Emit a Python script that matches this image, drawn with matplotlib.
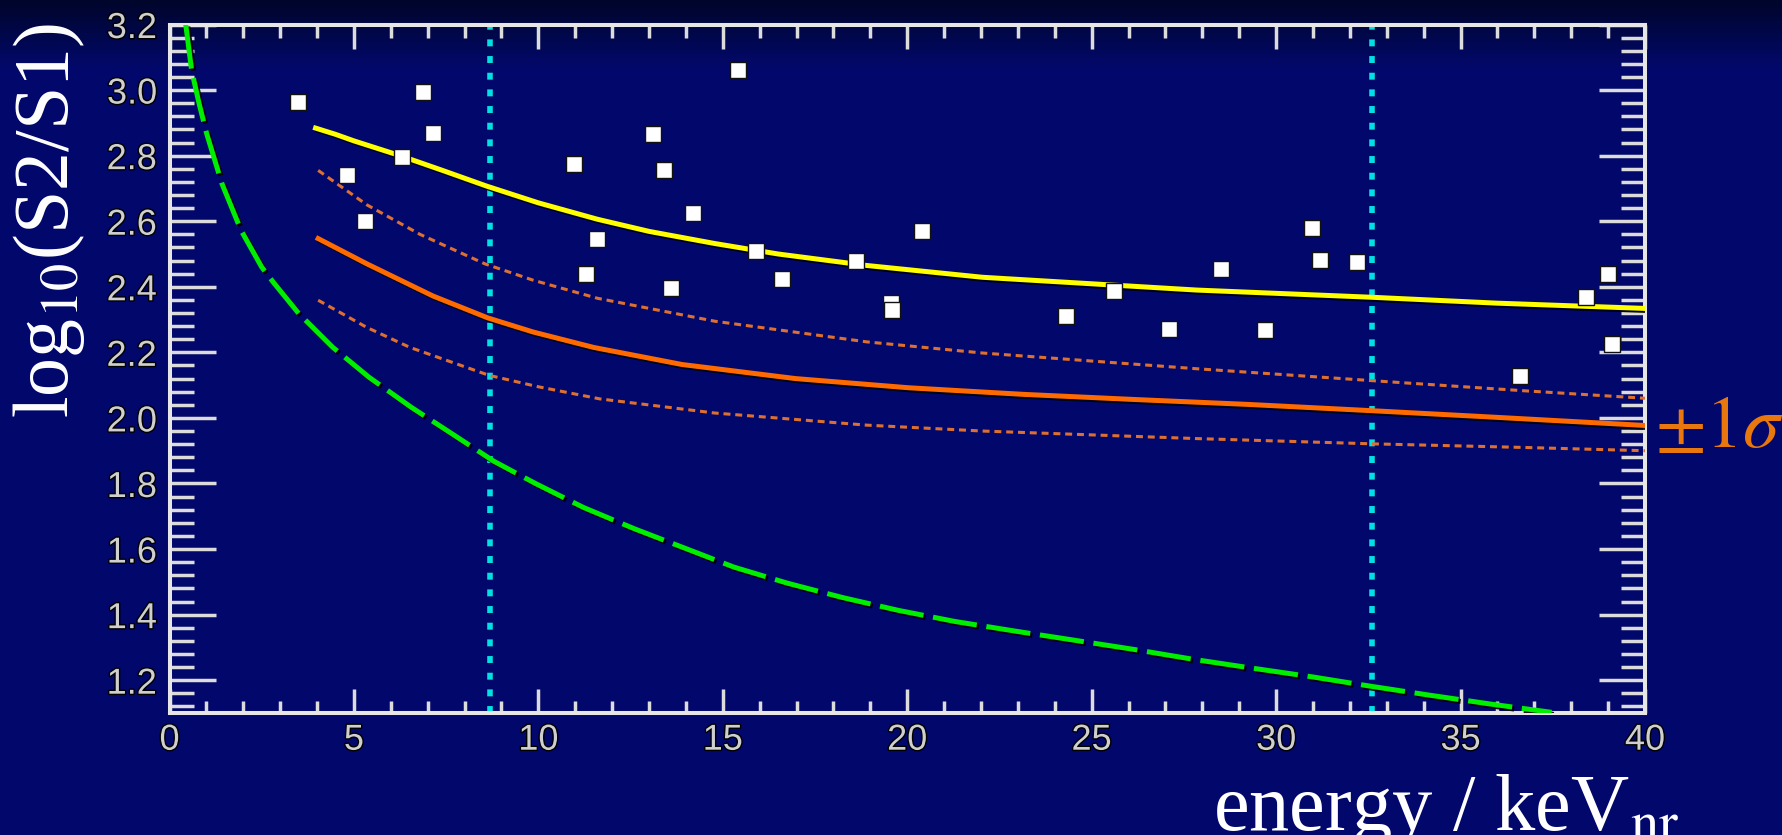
import numpy as np
import matplotlib
matplotlib.use("Agg")
import matplotlib.pyplot as plt
import matplotlib.patheffects as pe
from matplotlib.ticker import MultipleLocator, FormatStrFormatter

plt.rcParams['mathtext.fontset'] = 'stix'
plt.rcParams['lines.scale_dashes'] = False

# events (energy in keVnr, log10(S2/S1))
ev_x = [3.48, 4.8, 5.3, 6.3, 6.86, 7.14, 10.96, 11.3, 11.6, 13.1, 13.4, 13.6, 14.2,
        15.4, 15.9, 16.6, 18.6, 19.55, 19.6, 20.4, 24.3, 25.6, 27.1, 28.5, 29.7,
        30.96, 31.2, 32.2, 36.6, 38.4, 39.0, 39.1]
ev_y = [2.965, 2.74, 2.60, 2.795, 2.995, 2.87, 2.776, 2.44, 2.545, 2.865, 2.757, 2.395, 2.625,
        3.06, 2.51, 2.425, 2.48, 2.35, 2.33, 2.57, 2.31, 2.386, 2.27, 2.455, 2.268,
        2.578, 2.483, 2.477, 2.127, 2.368, 2.44, 2.227]

# electron recoil band mean
er_x = [3.96, 4.5, 5.0, 6.25, 7.4, 8.6, 10.0, 11.6, 13.0, 14.78, 16.5, 18.9, 22.04, 27.85, 32.6, 36.0, 40.0]
er_y = [2.884, 2.865, 2.845, 2.80, 2.755, 2.707, 2.656, 2.606, 2.569, 2.532, 2.50, 2.465, 2.429, 2.39, 2.368, 2.35, 2.334]

# nuclear recoil band mean and +-1 sigma
nr_x = [4.03, 5.35, 7.14, 8.63, 9.86, 11.5, 13.89, 16.97, 20.04, 23.13, 26.2, 29.28, 32.6, 35.45, 40.0]
nr_y = [2.547, 2.470, 2.372, 2.305, 2.262, 2.215, 2.163, 2.12, 2.092, 2.072, 2.056, 2.041, 2.022, 2.005, 1.977]

nr_hi_x = [4.03, 5.35, 6.79, 8.55, 9.86, 11.6, 14.78, 18.9, 22.04, 27.85, 33.35, 36.7, 40.0]
nr_hi_y = [2.755, 2.65, 2.56, 2.47, 2.42, 2.365, 2.295, 2.232, 2.198, 2.15, 2.108, 2.083, 2.06]

nr_lo_x = [4.03, 5.35, 6.52, 8.66, 10.0, 11.67, 14.78, 18.9, 22.04, 27.85, 32.6, 36.7, 40.0]
nr_lo_y = [2.359, 2.276, 2.215, 2.13, 2.095, 2.058, 2.015, 1.978, 1.960, 1.937, 1.921, 1.91, 1.90]

# S2 threshold curve
thr_x = [0.44, 0.60, 0.80, 1.0, 1.42, 1.94, 2.5, 2.82, 3.5, 4.43, 5.41, 6.56, 7.64, 8.79, 9.92,
         11.22, 12.6, 13.94, 15.3, 16.75, 18.25, 19.76, 21.3, 22.97, 24.53, 26.14, 27.74,
         29.34, 30.99, 32.6, 34.18, 35.83, 37.47]
thr_y = [3.20, 3.06, 2.96, 2.87, 2.715, 2.572, 2.46, 2.413, 2.319, 2.215, 2.124, 2.032, 1.953, 1.868, 1.80,
         1.727, 1.662, 1.604, 1.545, 1.496, 1.452, 1.413, 1.379, 1.349, 1.322, 1.294, 1.264,
         1.237, 1.21, 1.181, 1.154, 1.127, 1.102]

# energy window
window = [8.7, 32.6]

W, H = 1782, 835
fig = plt.figure(figsize=(W / 100, H / 100), dpi=100)

# dark blue backdrop, a little darker along the top edge
bg = fig.add_axes([0, 0, 1, 1], zorder=-10)
rows = np.linspace(0, 1, 200)[:, None]
top = np.array([0.0, 0.02, 0.17])
mid = np.array([0.01, 0.035, 0.42])
shade = np.clip(rows / 0.08, 0, 1)
img = top + (mid - top) * shade[..., None]
img = np.repeat(img, 4, axis=1)
bg.imshow(img, aspect='auto', extent=[0, 1, 0, 1], origin='upper')
bg.axis('off')

ax = fig.add_axes([169.5 / W, 1 - 713 / H, (1645 - 169.5) / W, (713 - 24.5) / H])
ax.set_facecolor('none')

shadow = [pe.SimpleLineShadow(offset=(1.5, -1.5), shadow_color='black', alpha=0.9), pe.Normal()]

ax.plot(thr_x, thr_y, color='#00ee00', lw=3.6, ls=(0, (32, 7)), path_effects=shadow, zorder=3)
ax.plot(er_x, er_y, color='#ffff00', lw=3.6, path_effects=shadow, zorder=4)
ax.plot(nr_x, nr_y, color='#ff6a00', lw=3.6, path_effects=shadow, zorder=4)
ax.plot(nr_hi_x, nr_hi_y, color='#dd7030', lw=2.2, ls=(0, (5, 3.5)), zorder=3)
ax.plot(nr_lo_x, nr_lo_y, color='#dd7030', lw=2.2, ls=(0, (5, 3.5)), zorder=3)
for e in window:
    ax.axvline(e, color='#00e2e2', lw=4, ls=(0, (5, 7)), zorder=2)

ax.plot(ev_x, ev_y, ls='none', marker='s', ms=11, mfc='white', mec='#111111', mew=1, zorder=5)

ax.set_xlim(0, 40)
ax.set_ylim(1.1, 3.2)
ax.xaxis.set_major_locator(MultipleLocator(5))
ax.xaxis.set_minor_locator(MultipleLocator(1))
ax.yaxis.set_major_locator(MultipleLocator(0.2))
ax.yaxis.set_minor_locator(MultipleLocator(0.04))
ax.yaxis.set_major_formatter(FormatStrFormatter('%.1f'))

for s in ax.spines.values():
    s.set_color('#e6e6e6')
    s.set_linewidth(2.9)

ax.tick_params(axis='both', which='both', direction='in', color='#dcdcdc', width=2.5,
               top=True, right=True, labelcolor='#cfcfcf', labelsize=26)
ax.tick_params(axis='x', which='major', length=17, pad=7)
ax.tick_params(axis='x', which='minor', length=9)
ax.tick_params(axis='y', which='major', length=33, pad=9)
ax.tick_params(axis='y', which='minor', length=17)
for lab in ax.get_xticklabels() + ax.get_yticklabels():
    lab.set_family('Liberation Sans')
    lab.set_path_effects([pe.withStroke(linewidth=2, foreground='black')])

fig.text(68 / W, 1 - 418 / H, 'log$_{10}$(S2/S1)', rotation=90, rotation_mode='anchor',
         ha='left', va='baseline', fontsize=56, color='white', family='Liberation Serif')
fig.text(1213 / W, 1 - 830 / H, r'energy / keV$_{\mathrm{nr}}$', ha='left', va='baseline',
         fontsize=58, color='white', family='Liberation Serif')
fig.text(1655 / W, 1 - 447 / H, r'$\pm 1\sigma$', ha='left', va='baseline',
         fontsize=53, color='#e8770e')

fig.savefig('out.png', dpi=100)
